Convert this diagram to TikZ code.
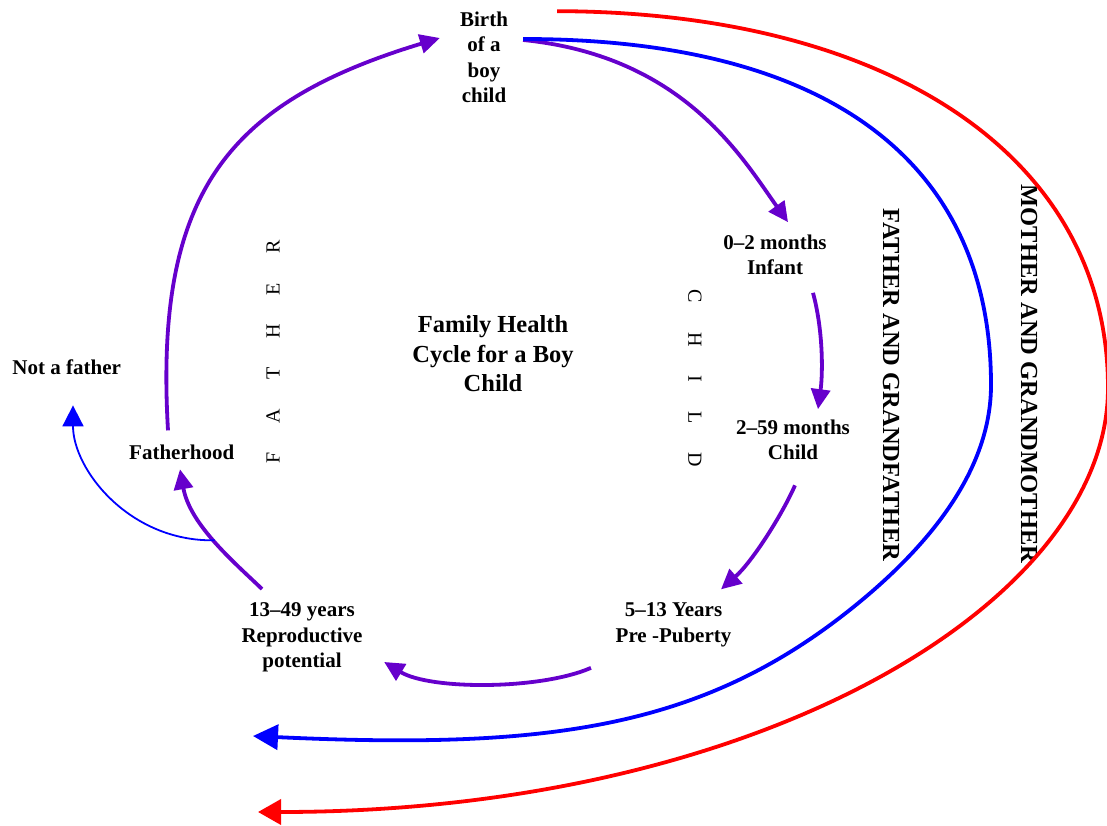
\documentclass[tikz,border=0pt]{standalone}
\usepackage{fontspec}
\setmainfont{Liberation Serif}
\usetikzlibrary{arrows.meta}
\definecolor{cycpurple}{RGB}{102,0,204}
\definecolor{kinblue}{RGB}{0,0,255}
\definecolor{kinred}{RGB}{255,0,0}
\newcommand{\ltrgap}{\hspace{29pt}}

\begin{document}
\begin{tikzpicture}[x=1pt,y=-1pt,
  stage/.style={align=center, inner sep=0pt, font=\bfseries\fontsize{21}{25.5}\selectfont},
  title/.style={align=center, inner sep=0pt, font=\bfseries\fontsize{24.5}{29.5}\selectfont},
  sidebig/.style={inner sep=0pt, font=\bfseries\fontsize{24.5}{28}\selectfont, rotate=-90},
  spaced/.style={inner sep=0pt, font=\fontsize{20}{24}\selectfont},
  cyc/.style={draw=cycpurple, line width=3.8pt, -{Triangle[length=20pt,width=19pt]}},
  kin/.style={line width=3.8pt, -{Triangle[length=25pt,width=25pt]}},
  branchline/.style={draw=kinblue, line width=1.8pt, -{Triangle[length=21pt,width=21pt]}}
]
\useasboundingbox (0,0) rectangle (1107,826);

% stages of the cycle
\node[stage] (birth) at (484,57.5) {Birth\\of a\\boy\\child};
\node[stage] (infant) at (775,255) {0--2 months\\Infant};
\node[stage] (kid) at (793,440) {2--59 months\\Child};
\node[stage] (prepub) at (673.5,625) {5--13 Years\\Pre -Puberty};
\node[stage] (repro) at (302,637.4) {13--49 years\\Reproductive\\potential};
\node[stage] (fatherhood) at (181.7,452.7) {Fatherhood};
\node[stage] (notfather) at (66.7,367.7) {Not a father};
\node[title] (title) at (493,354) {Family Health\\Cycle for a Boy\\Child};

% side captions
\node[spaced, rotate=90] (fatherword) at (273,352) {F\ltrgap A\ltrgap T\ltrgap H\ltrgap E\ltrgap R};
\node[spaced, rotate=-90] (childword) at (695,378.5) {C\ltrgap H\ltrgap I\ltrgap L\ltrgap D};
\node[sidebig] (fgf) at (891,385) {FATHER AND GRANDFATHER};
\node[sidebig] (mgm) at (1029,374) {MOTHER AND GRANDMOTHER};

% free ends of the two outer loops
\coordinate (blueend) at (253,736);
\coordinate (redend) at (258,812);

% the cycle
\draw[cyc] ([shift={(-13.7,-14.7)}]fatherhood.north) .. controls (154,191) and (229,102) .. ([shift={(-20,-19.5)}]birth.west);
\draw[cyc] ([shift={(15,-17.5)}]birth.east) .. controls (683,56) and (741.6,157) .. ([shift={(13,-12.5)}]infant.north);
\draw[cyc] ([shift={(38,17.5)}]infant.south) .. controls (823,330) and (823,372) .. ([shift={(25,-10.5)}]kid.north);
\draw[cyc] ([shift={(2,25)}]kid.south) .. controls (782,515) and (752,562) .. ([shift={(47.5,-13.5)}]prepub.north);
\draw[cyc] ([shift={(-24.5,20.7)}]prepub.south west) .. controls (540,690) and (430,690) .. ([shift={(21.5,-10.3)}]repro.south east);
\draw[cyc] ([shift={(-40,-13.5)}]repro.north) .. controls (235,563) and (190,525) .. ([shift={(-1.7,9)}]fatherhood.south) coordinate[pos=0.5] (branch);

% branch to "Not a father"
\draw[branchline] (branch) .. controls (130,542) and (73,470) .. ([shift={(6.3,30)}]notfather.south);

% outer loops
\draw[kin, draw=kinblue] ([shift={(15,-18.5)}]birth.east) .. controls (833,39) and (991,165) .. (991,385)
  .. controls (991,471) and (928,545) .. (862,600)
  .. controls (708,728) and (553,750) .. (blueend);
\draw[kin, draw=kinred, -{Triangle[length=23pt,width=25pt]}] ([shift={(49,-0.5)}]birth.north east) .. controls (887,12) and (1108,155) .. (1108,388)
  .. controls (1108,603) and (758,812) .. (redend);
\end{tikzpicture}
\end{document}
